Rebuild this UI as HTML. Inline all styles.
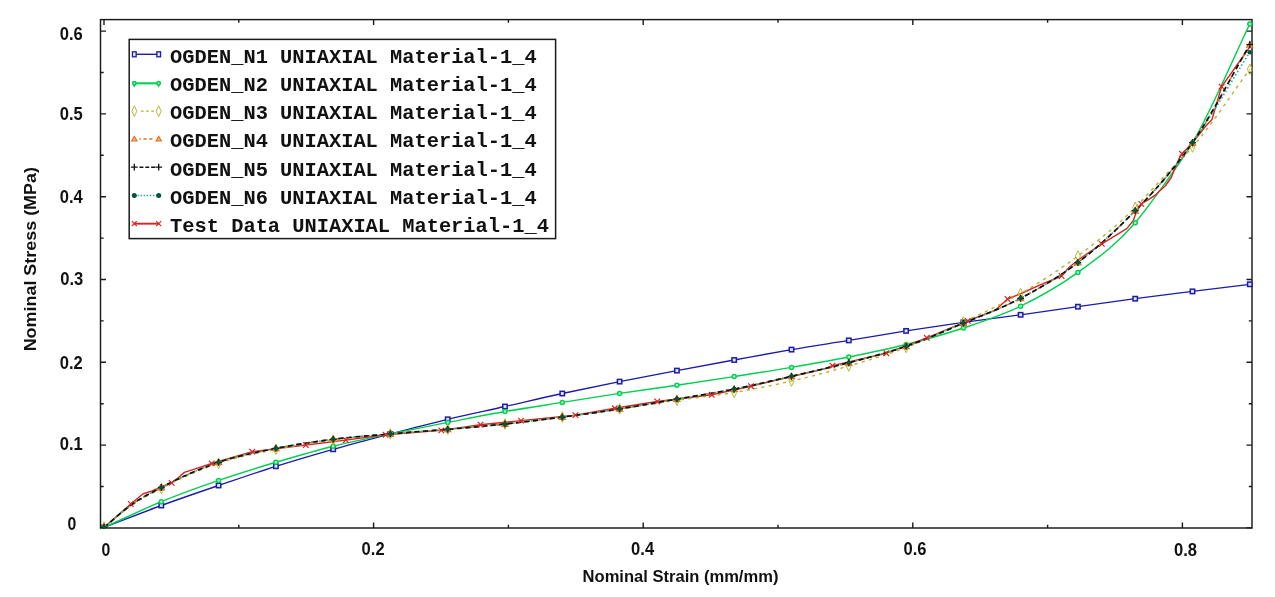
<!DOCTYPE html>
<html lang="en"><head><meta charset="utf-8"><title>Nominal Stress vs Nominal Strain</title>
<style>html,body{margin:0;padding:0;background:#fff}body{width:1275px;height:597px;overflow:hidden}svg{display:block}.tk{font-family:"Liberation Sans",sans-serif;font-weight:bold;font-size:18.5px;fill:#111}.ti{font-family:"Liberation Sans",sans-serif;font-weight:bold;font-size:17.1px;fill:#111}.lg{font-family:"Liberation Mono",monospace;font-weight:bold;font-size:20.4px;fill:#111}</style></head><body>
<svg width="1275" height="597" viewBox="0 0 1275 597" style="filter:blur(0.4px)">
<rect width="1275" height="597" fill="#fff"/>
<defs><clipPath id="pc"><rect x="100.5" y="19.6" width="1153.0" height="509.4"/></clipPath></defs>
<rect x="100.5" y="19.6" width="1151.5" height="508.4" fill="none" stroke="#1a1a1a" stroke-width="1.45"/>
<path d="M104.0 528.0v-5.5M104.0 19.6v5.5M238.8 528.0v-3.2M238.8 19.6v3.2M373.6 528.0v-5.5M373.6 19.6v5.5M508.4 528.0v-3.2M508.4 19.6v3.2M643.2 528.0v-5.5M643.2 19.6v5.5M778.0 528.0v-3.2M778.0 19.6v3.2M912.8 528.0v-5.5M912.8 19.6v5.5M1047.6 528.0v-3.2M1047.6 19.6v3.2M1182.4 528.0v-5.5M1182.4 19.6v5.5M100.5 527.9h5.5M1252.0 527.9h-5.5M100.5 486.5h3.2M1252.0 486.5h-3.2M100.5 445.1h5.5M1252.0 445.1h-5.5M100.5 403.7h3.2M1252.0 403.7h-3.2M100.5 362.3h5.5M1252.0 362.3h-5.5M100.5 320.9h3.2M1252.0 320.9h-3.2M100.5 279.5h5.5M1252.0 279.5h-5.5M100.5 238.1h3.2M1252.0 238.1h-3.2M100.5 196.7h5.5M1252.0 196.7h-5.5M100.5 155.3h3.2M1252.0 155.3h-3.2M100.5 113.9h5.5M1252.0 113.9h-5.5M100.5 72.5h3.2M1252.0 72.5h-3.2M100.5 31.1h5.5M1252.0 31.1h-5.5" stroke="#1a1a1a" stroke-width="1.4" fill="none"/>
<text class="tk" x="105.8" y="555.9" text-anchor="middle" textLength="8.8" lengthAdjust="spacingAndGlyphs">0</text>
<text class="tk" x="373.1" y="555.0" text-anchor="middle" textLength="23.0" lengthAdjust="spacingAndGlyphs">0.2</text>
<text class="tk" x="642.6" y="555.0" text-anchor="middle" textLength="23.0" lengthAdjust="spacingAndGlyphs">0.4</text>
<text class="tk" x="915.0" y="555.4" text-anchor="middle" textLength="23.0" lengthAdjust="spacingAndGlyphs">0.6</text>
<text class="tk" x="1185.5" y="556.1" text-anchor="middle" textLength="23.0" lengthAdjust="spacingAndGlyphs">0.8</text>
<text class="tk" x="82.8" y="40.3" text-anchor="end" textLength="23.0" lengthAdjust="spacingAndGlyphs">0.6</text>
<text class="tk" x="82.8" y="119.7" text-anchor="end" textLength="23.0" lengthAdjust="spacingAndGlyphs">0.5</text>
<text class="tk" x="82.8" y="203.0" text-anchor="end" textLength="23.0" lengthAdjust="spacingAndGlyphs">0.4</text>
<text class="tk" x="83.3" y="285.0" text-anchor="end" textLength="23.0" lengthAdjust="spacingAndGlyphs">0.3</text>
<text class="tk" x="82.8" y="369.2" text-anchor="end" textLength="23.0" lengthAdjust="spacingAndGlyphs">0.2</text>
<text class="tk" x="82.8" y="449.7" text-anchor="end" textLength="23.0" lengthAdjust="spacingAndGlyphs">0.1</text>
<text class="tk" x="76.4" y="530.2" text-anchor="end" textLength="8.8" lengthAdjust="spacingAndGlyphs">0</text>
<text class="ti" x="680.5" y="581.8" text-anchor="middle" textLength="195.8" lengthAdjust="spacingAndGlyphs">Nominal Strain (mm/mm)</text>
<text class="ti" transform="translate(36.0 259.2) rotate(-90)" text-anchor="middle" textLength="184.3" lengthAdjust="spacingAndGlyphs">Nominal Stress (MPa)</text>
<g clip-path="url(#pc)">
<path d="M104.0 527.5C123.1 520.2 142.2 512.5 161.3 505.5C180.4 498.5 199.5 492.0 218.6 485.5C237.7 479.0 256.8 472.3 275.9 466.3C295.0 460.3 314.1 454.7 333.2 449.3C352.3 443.9 371.4 438.9 390.4 433.9C409.5 428.9 428.6 423.9 447.7 419.3C466.8 414.7 485.9 410.8 505.0 406.5C524.1 402.2 543.2 397.6 562.3 393.5C581.4 389.4 600.5 385.4 619.6 381.6C638.7 377.8 657.8 374.2 676.9 370.6C696.0 367.0 715.1 363.5 734.2 360.0C753.3 356.5 772.4 352.9 791.5 349.6C810.6 346.3 829.7 343.5 848.8 340.4C867.9 337.3 887.0 333.9 906.1 330.9C925.2 327.9 944.3 325.1 963.4 322.4C982.4 319.7 1001.5 317.4 1020.6 314.8C1039.7 312.2 1058.8 309.4 1077.9 306.7C1097.0 304.0 1116.1 301.2 1135.2 298.7C1154.3 296.1 1173.4 293.8 1192.5 291.4C1211.6 289.0 1230.7 286.7 1249.8 284.3" fill="none" stroke="#1c1ca8" stroke-width="1.35"/>
<path d="M104.0 527.5C123.1 518.9 142.2 509.6 161.3 501.7C180.4 493.8 199.5 487.0 218.6 480.4C237.7 473.8 256.8 468.0 275.9 462.3C295.0 456.6 314.1 450.9 333.2 446.2C352.3 441.5 371.4 437.9 390.4 433.9C409.5 429.9 428.6 426.1 447.7 422.4C466.8 418.7 485.9 414.8 505.0 411.5C524.1 408.2 543.2 405.4 562.3 402.4C581.4 399.4 600.5 396.3 619.6 393.4C638.7 390.5 657.8 388.0 676.9 385.2C696.0 382.4 715.1 379.6 734.2 376.6C753.3 373.6 772.4 370.7 791.5 367.4C810.6 364.1 829.7 360.8 848.8 357.0C867.9 353.2 887.0 349.3 906.1 344.5C925.2 339.7 944.3 334.4 963.4 328.0C982.4 321.6 1001.5 315.5 1020.6 306.2C1039.7 296.9 1058.8 286.3 1077.9 272.4C1097.0 258.5 1116.1 245.4 1135.2 222.8C1142.9 213.7 1150.7 203.0 1158.4 192.4C1169.8 176.8 1181.1 161.9 1192.5 142.7C1211.6 110.5 1230.7 63.6 1249.8 24.0" fill="none" stroke="#00d050" stroke-width="1.45"/>
<polyline points="104.0,527.5 115.0,517.8 130.8,504.0 142.8,494.0 152.0,490.9 161.3,487.0 171.6,482.9 178.2,477.8 184.4,472.4 193.7,469.3 211.7,463.4 252.2,451.6 305.8,445.0 345.9,440.1 385.6,434.7 441.3,430.4 480.5,424.7 521.0,420.6 575.5,415.1 614.8,408.3 657.2,401.5 711.7,394.8 751.0,386.2 812.0,371.7 825.4,368.5 832.5,365.6 886.3,353.2 926.8,337.8 967.8,320.9 995.5,310.1 1007.5,299.0 1021.0,293.5 1040.2,284.9 1061.6,276.0 1069.0,267.5 1078.0,260.0 1101.8,243.9 1126.8,228.6 1133.2,220.8 1136.2,212.5 1141.3,204.0 1148.5,199.7 1155.6,194.8 1165.6,185.5 1171.3,177.5 1174.8,168.4 1179.8,157.1 1182.0,153.8 1192.6,142.7 1205.4,126.5 1212.0,119.5 1221.6,86.6 1249.8,47.0" fill="none" stroke="#d82424" stroke-width="1.4" stroke-linejoin="round"/>
<path d="M104.0 527.5C112.9 520.3 121.9 512.0 130.8 505.8C141.0 498.7 151.1 493.8 161.3 488.5C180.4 478.5 199.5 469.8 218.6 463.3C237.7 456.8 256.8 453.3 275.9 449.4C295.0 445.5 314.1 442.6 333.2 440.0C352.3 437.4 371.4 435.7 390.4 433.9C409.5 432.1 428.6 430.9 447.7 429.3C466.8 427.7 485.9 426.0 505.0 424.0C524.1 422.0 543.2 419.6 562.3 417.1C581.4 414.6 600.5 411.7 619.6 408.9C638.7 406.1 657.8 403.0 676.9 400.3C696.0 397.6 715.1 395.7 734.2 392.5C753.3 389.3 772.4 385.4 791.5 381.0C810.6 376.6 829.7 371.6 848.8 366.0C867.9 360.4 887.0 354.8 906.1 347.5C925.2 340.2 944.3 331.0 963.4 322.0C982.4 313.0 1001.5 304.5 1020.6 293.5C1039.7 282.5 1058.8 270.3 1077.9 256.0C1097.0 241.7 1116.1 226.6 1135.2 207.5C1144.8 197.9 1154.3 186.7 1163.9 176.6C1173.4 166.5 1183.0 157.9 1192.5 147.0C1211.6 125.2 1230.7 95.2 1249.8 69.3" fill="none" stroke="#b4b432" stroke-width="1.4" stroke-dasharray="3.2 4.2"/>
<path d="M104.0 527.5C112.9 520.1 121.9 511.6 130.8 505.2C141.0 497.9 151.1 492.9 161.3 487.5C180.4 477.3 199.5 468.8 218.6 462.3C237.7 455.8 256.8 452.2 275.9 448.4C295.0 444.6 314.1 441.7 333.2 439.3C352.3 436.9 371.4 435.6 390.4 433.9C409.5 432.2 428.6 430.9 447.7 429.3C466.8 427.7 485.9 426.0 505.0 424.0C524.1 422.0 543.2 419.6 562.3 417.1C581.4 414.6 600.5 411.9 619.6 408.9C638.7 405.9 657.8 402.4 676.9 399.1C696.0 395.8 715.1 392.9 734.2 389.1C753.3 385.3 772.4 380.7 791.5 376.3C810.6 371.9 829.7 367.7 848.8 362.7C867.9 357.7 887.0 352.9 906.1 346.3C925.2 339.7 944.3 331.2 963.4 323.2C982.4 315.2 1001.5 308.4 1020.6 298.3C1039.7 288.2 1058.8 277.2 1077.9 262.6C1097.0 248.0 1116.1 230.3 1135.2 210.7C1144.8 200.9 1154.3 190.9 1163.9 179.6C1173.4 168.3 1183.0 156.3 1192.5 142.7C1211.6 115.4 1230.7 77.4 1249.8 44.7" fill="none" stroke="#e2701e" stroke-width="1.4" stroke-dasharray="5 3 1.5 3"/>
<path d="M104.0 527.5C112.9 520.1 121.9 511.6 130.8 505.2C141.0 497.9 151.1 492.9 161.3 487.5C180.4 477.3 199.5 468.8 218.6 462.3C237.7 455.8 256.8 452.2 275.9 448.4C295.0 444.6 314.1 441.7 333.2 439.3C352.3 436.9 371.4 435.6 390.4 433.9C409.5 432.2 428.6 430.9 447.7 429.3C466.8 427.7 485.9 426.0 505.0 424.0C524.1 422.0 543.2 419.6 562.3 417.1C581.4 414.6 600.5 411.9 619.6 408.9C638.7 405.9 657.8 402.4 676.9 399.1C696.0 395.8 715.1 392.9 734.2 389.1C753.3 385.3 772.4 380.7 791.5 376.3C810.6 371.9 829.7 367.7 848.8 362.7C867.9 357.7 887.0 352.9 906.1 346.3C925.2 339.7 944.3 331.2 963.4 323.2C982.4 315.2 1001.5 308.4 1020.6 298.3C1039.7 288.2 1058.8 277.2 1077.9 262.6C1097.0 248.0 1116.1 230.3 1135.2 210.7C1144.8 200.9 1154.3 190.9 1163.9 179.6C1173.4 168.3 1183.0 155.9 1192.5 142.7C1211.6 116.2 1230.7 82.4 1249.8 52.2" fill="none" stroke="#18b4a0" stroke-width="1.6" stroke-dasharray="1.6 2.2"/>
<path d="M104.0 527.5C112.9 520.1 121.9 511.6 130.8 505.2C141.0 497.9 151.1 492.9 161.3 487.5C180.4 477.3 199.5 468.8 218.6 462.3C237.7 455.8 256.8 452.2 275.9 448.4C295.0 444.6 314.1 441.7 333.2 439.3C352.3 436.9 371.4 435.6 390.4 433.9C409.5 432.2 428.6 430.9 447.7 429.3C466.8 427.7 485.9 426.0 505.0 424.0C524.1 422.0 543.2 419.6 562.3 417.1C581.4 414.6 600.5 411.9 619.6 408.9C638.7 405.9 657.8 402.4 676.9 399.1C696.0 395.8 715.1 392.9 734.2 389.1C753.3 385.3 772.4 380.7 791.5 376.3C810.6 371.9 829.7 367.7 848.8 362.7C867.9 357.7 887.0 352.9 906.1 346.3C925.2 339.7 944.3 331.2 963.4 323.2C982.4 315.2 1001.5 308.4 1020.6 298.3C1039.7 288.2 1058.8 277.2 1077.9 262.6C1097.0 248.0 1116.1 230.3 1135.2 210.7C1144.8 200.9 1154.3 190.9 1163.9 179.6C1173.4 168.3 1183.0 156.3 1192.5 142.7C1211.6 115.4 1230.7 77.4 1249.8 44.7" fill="none" stroke="#101010" stroke-width="1.7" stroke-dasharray="5 3.5"/>
<rect x="101.8" y="525.3" width="4.4" height="4.4" fill="#e4e4f6" stroke="#1c1ca8" stroke-width="1.5"/><rect x="159.1" y="503.3" width="4.4" height="4.4" fill="#e4e4f6" stroke="#1c1ca8" stroke-width="1.5"/><rect x="216.4" y="483.3" width="4.4" height="4.4" fill="#e4e4f6" stroke="#1c1ca8" stroke-width="1.5"/><rect x="273.7" y="464.1" width="4.4" height="4.4" fill="#e4e4f6" stroke="#1c1ca8" stroke-width="1.5"/><rect x="331.0" y="447.1" width="4.4" height="4.4" fill="#e4e4f6" stroke="#1c1ca8" stroke-width="1.5"/><rect x="388.2" y="431.7" width="4.4" height="4.4" fill="#e4e4f6" stroke="#1c1ca8" stroke-width="1.5"/><rect x="445.5" y="417.1" width="4.4" height="4.4" fill="#e4e4f6" stroke="#1c1ca8" stroke-width="1.5"/><rect x="502.8" y="404.3" width="4.4" height="4.4" fill="#e4e4f6" stroke="#1c1ca8" stroke-width="1.5"/><rect x="560.1" y="391.3" width="4.4" height="4.4" fill="#e4e4f6" stroke="#1c1ca8" stroke-width="1.5"/><rect x="617.4" y="379.4" width="4.4" height="4.4" fill="#e4e4f6" stroke="#1c1ca8" stroke-width="1.5"/><rect x="674.7" y="368.4" width="4.4" height="4.4" fill="#e4e4f6" stroke="#1c1ca8" stroke-width="1.5"/><rect x="732.0" y="357.8" width="4.4" height="4.4" fill="#e4e4f6" stroke="#1c1ca8" stroke-width="1.5"/><rect x="789.3" y="347.4" width="4.4" height="4.4" fill="#e4e4f6" stroke="#1c1ca8" stroke-width="1.5"/><rect x="846.6" y="338.2" width="4.4" height="4.4" fill="#e4e4f6" stroke="#1c1ca8" stroke-width="1.5"/><rect x="903.9" y="328.7" width="4.4" height="4.4" fill="#e4e4f6" stroke="#1c1ca8" stroke-width="1.5"/><rect x="961.1" y="320.2" width="4.4" height="4.4" fill="#e4e4f6" stroke="#1c1ca8" stroke-width="1.5"/><rect x="1018.4" y="312.6" width="4.4" height="4.4" fill="#e4e4f6" stroke="#1c1ca8" stroke-width="1.5"/><rect x="1075.7" y="304.5" width="4.4" height="4.4" fill="#e4e4f6" stroke="#1c1ca8" stroke-width="1.5"/><rect x="1133.0" y="296.5" width="4.4" height="4.4" fill="#e4e4f6" stroke="#1c1ca8" stroke-width="1.5"/><rect x="1190.3" y="289.2" width="4.4" height="4.4" fill="#e4e4f6" stroke="#1c1ca8" stroke-width="1.5"/><rect x="1247.6" y="282.1" width="4.4" height="4.4" fill="#e4e4f6" stroke="#1c1ca8" stroke-width="1.5"/>
<circle cx="104.0" cy="527.5" r="2.0" fill="#b8f2cc" stroke="#00d050" stroke-width="1.5"/><circle cx="161.3" cy="501.7" r="2.0" fill="#b8f2cc" stroke="#00d050" stroke-width="1.5"/><circle cx="218.6" cy="480.4" r="2.0" fill="#b8f2cc" stroke="#00d050" stroke-width="1.5"/><circle cx="275.9" cy="462.3" r="2.0" fill="#b8f2cc" stroke="#00d050" stroke-width="1.5"/><circle cx="333.2" cy="446.2" r="2.0" fill="#b8f2cc" stroke="#00d050" stroke-width="1.5"/><circle cx="390.4" cy="433.9" r="2.0" fill="#b8f2cc" stroke="#00d050" stroke-width="1.5"/><circle cx="447.7" cy="422.4" r="2.0" fill="#b8f2cc" stroke="#00d050" stroke-width="1.5"/><circle cx="505.0" cy="411.5" r="2.0" fill="#b8f2cc" stroke="#00d050" stroke-width="1.5"/><circle cx="562.3" cy="402.4" r="2.0" fill="#b8f2cc" stroke="#00d050" stroke-width="1.5"/><circle cx="619.6" cy="393.4" r="2.0" fill="#b8f2cc" stroke="#00d050" stroke-width="1.5"/><circle cx="676.9" cy="385.2" r="2.0" fill="#b8f2cc" stroke="#00d050" stroke-width="1.5"/><circle cx="734.2" cy="376.6" r="2.0" fill="#b8f2cc" stroke="#00d050" stroke-width="1.5"/><circle cx="791.5" cy="367.4" r="2.0" fill="#b8f2cc" stroke="#00d050" stroke-width="1.5"/><circle cx="848.8" cy="357.0" r="2.0" fill="#b8f2cc" stroke="#00d050" stroke-width="1.5"/><circle cx="906.1" cy="344.5" r="2.0" fill="#b8f2cc" stroke="#00d050" stroke-width="1.5"/><circle cx="963.4" cy="328.0" r="2.0" fill="#b8f2cc" stroke="#00d050" stroke-width="1.5"/><circle cx="1020.6" cy="306.2" r="2.0" fill="#b8f2cc" stroke="#00d050" stroke-width="1.5"/><circle cx="1077.9" cy="272.4" r="2.0" fill="#b8f2cc" stroke="#00d050" stroke-width="1.5"/><circle cx="1135.2" cy="222.8" r="2.0" fill="#b8f2cc" stroke="#00d050" stroke-width="1.5"/><circle cx="1192.5" cy="142.7" r="2.0" fill="#b8f2cc" stroke="#00d050" stroke-width="1.5"/><circle cx="1249.8" cy="24.0" r="2.0" fill="#b8f2cc" stroke="#00d050" stroke-width="1.5"/>
<path d="M128.0 501.2L133.6 506.8M128.0 506.8L133.6 501.2" fill="none" stroke="#d82424" stroke-width="1.2"/><path d="M168.8 480.1L174.4 485.7M168.8 485.7L174.4 480.1" fill="none" stroke="#d82424" stroke-width="1.2"/><path d="M208.9 460.6L214.5 466.2M208.9 466.2L214.5 460.6" fill="none" stroke="#d82424" stroke-width="1.2"/><path d="M249.4 448.8L255.0 454.4M249.4 454.4L255.0 448.8" fill="none" stroke="#d82424" stroke-width="1.2"/><path d="M303.0 442.2L308.6 447.8M303.0 447.8L308.6 442.2" fill="none" stroke="#d82424" stroke-width="1.2"/><path d="M343.1 437.3L348.7 442.9M343.1 442.9L348.7 437.3" fill="none" stroke="#d82424" stroke-width="1.2"/><path d="M382.8 431.9L388.4 437.5M382.8 437.5L388.4 431.9" fill="none" stroke="#d82424" stroke-width="1.2"/><path d="M438.5 427.6L444.1 433.2M438.5 433.2L444.1 427.6" fill="none" stroke="#d82424" stroke-width="1.2"/><path d="M477.7 421.9L483.3 427.5M477.7 427.5L483.3 421.9" fill="none" stroke="#d82424" stroke-width="1.2"/><path d="M518.2 417.8L523.8 423.4M518.2 423.4L523.8 417.8" fill="none" stroke="#d82424" stroke-width="1.2"/><path d="M572.7 412.3L578.3 417.9M572.7 417.9L578.3 412.3" fill="none" stroke="#d82424" stroke-width="1.2"/><path d="M612.0 405.5L617.6 411.1M612.0 411.1L617.6 405.5" fill="none" stroke="#d82424" stroke-width="1.2"/><path d="M654.4 398.7L660.0 404.3M654.4 404.3L660.0 398.7" fill="none" stroke="#d82424" stroke-width="1.2"/><path d="M708.9 392.0L714.5 397.6M708.9 397.6L714.5 392.0" fill="none" stroke="#d82424" stroke-width="1.2"/><path d="M748.2 383.4L753.8 389.0M748.2 389.0L753.8 383.4" fill="none" stroke="#d82424" stroke-width="1.2"/><path d="M829.7 362.8L835.3 368.4M829.7 368.4L835.3 362.8" fill="none" stroke="#d82424" stroke-width="1.2"/><path d="M883.5 350.4L889.1 356.0M883.5 356.0L889.1 350.4" fill="none" stroke="#d82424" stroke-width="1.2"/><path d="M924.0 335.0L929.6 340.6M924.0 340.6L929.6 335.0" fill="none" stroke="#d82424" stroke-width="1.2"/><path d="M965.0 318.1L970.6 323.7M965.0 323.7L970.6 318.1" fill="none" stroke="#d82424" stroke-width="1.2"/><path d="M1004.7 296.2L1010.3 301.8M1004.7 301.8L1010.3 296.2" fill="none" stroke="#d82424" stroke-width="1.2"/><path d="M1058.8 273.2L1064.4 278.8M1058.8 278.8L1064.4 273.2" fill="none" stroke="#d82424" stroke-width="1.2"/><path d="M1099.0 241.1L1104.6 246.7M1099.0 246.7L1104.6 241.1" fill="none" stroke="#d82424" stroke-width="1.2"/><path d="M1138.5 201.2L1144.1 206.8M1138.5 206.8L1144.1 201.2" fill="none" stroke="#d82424" stroke-width="1.2"/><path d="M1179.2 151.0L1184.8 156.6M1179.2 156.6L1184.8 151.0" fill="none" stroke="#d82424" stroke-width="1.2"/><path d="M1218.8 83.8L1224.4 89.4M1218.8 89.4L1224.4 83.8" fill="none" stroke="#d82424" stroke-width="1.2"/>
<path d="M104.0 522.2L106.5 527.5L104.0 532.8L101.5 527.5Z" fill="none" stroke="#b4b432" stroke-width="0.95"/><path d="M161.3 483.2L163.8 488.5L161.3 493.8L158.8 488.5Z" fill="none" stroke="#b4b432" stroke-width="0.95"/><path d="M218.6 458.0L221.1 463.3L218.6 468.6L216.1 463.3Z" fill="none" stroke="#b4b432" stroke-width="0.95"/><path d="M275.9 444.1L278.4 449.4L275.9 454.7L273.4 449.4Z" fill="none" stroke="#b4b432" stroke-width="0.95"/><path d="M333.2 434.7L335.7 440.0L333.2 445.3L330.7 440.0Z" fill="none" stroke="#b4b432" stroke-width="0.95"/><path d="M390.4 428.6L392.9 433.9L390.4 439.2L387.9 433.9Z" fill="none" stroke="#b4b432" stroke-width="0.95"/><path d="M447.7 424.0L450.2 429.3L447.7 434.6L445.2 429.3Z" fill="none" stroke="#b4b432" stroke-width="0.95"/><path d="M505.0 418.7L507.5 424.0L505.0 429.3L502.5 424.0Z" fill="none" stroke="#b4b432" stroke-width="0.95"/><path d="M562.3 411.8L564.8 417.1L562.3 422.4L559.8 417.1Z" fill="none" stroke="#b4b432" stroke-width="0.95"/><path d="M619.6 403.6L622.1 408.9L619.6 414.2L617.1 408.9Z" fill="none" stroke="#b4b432" stroke-width="0.95"/><path d="M676.9 395.0L679.4 400.3L676.9 405.6L674.4 400.3Z" fill="none" stroke="#b4b432" stroke-width="0.95"/><path d="M734.2 387.2L736.7 392.5L734.2 397.8L731.7 392.5Z" fill="none" stroke="#b4b432" stroke-width="0.95"/><path d="M791.5 375.7L794.0 381.0L791.5 386.3L789.0 381.0Z" fill="none" stroke="#b4b432" stroke-width="0.95"/><path d="M848.8 360.7L851.3 366.0L848.8 371.3L846.3 366.0Z" fill="none" stroke="#b4b432" stroke-width="0.95"/><path d="M906.1 342.2L908.6 347.5L906.1 352.8L903.6 347.5Z" fill="none" stroke="#b4b432" stroke-width="0.95"/><path d="M963.4 316.7L965.9 322.0L963.4 327.3L960.9 322.0Z" fill="none" stroke="#b4b432" stroke-width="0.95"/><path d="M1020.6 288.2L1023.1 293.5L1020.6 298.8L1018.1 293.5Z" fill="none" stroke="#b4b432" stroke-width="0.95"/><path d="M1077.9 250.7L1080.4 256.0L1077.9 261.3L1075.4 256.0Z" fill="none" stroke="#b4b432" stroke-width="0.95"/><path d="M1135.2 202.2L1137.7 207.5L1135.2 212.8L1132.7 207.5Z" fill="none" stroke="#b4b432" stroke-width="0.95"/><path d="M1192.5 141.7L1195.0 147.0L1192.5 152.3L1190.0 147.0Z" fill="none" stroke="#b4b432" stroke-width="0.95"/><path d="M1249.8 64.0L1252.3 69.3L1249.8 74.6L1247.3 69.3Z" fill="none" stroke="#b4b432" stroke-width="0.95"/>
<path d="M104.0 524.3L107.2 529.9L100.8 529.9Z" fill="#f4b27a" stroke="#e2701e" stroke-width="1.1"/><path d="M161.3 484.3L164.5 489.9L158.1 489.9Z" fill="#f4b27a" stroke="#e2701e" stroke-width="1.1"/><path d="M218.6 459.1L221.8 464.7L215.4 464.7Z" fill="#f4b27a" stroke="#e2701e" stroke-width="1.1"/><path d="M275.9 445.2L279.1 450.8L272.7 450.8Z" fill="#f4b27a" stroke="#e2701e" stroke-width="1.1"/><path d="M333.2 436.1L336.4 441.7L330.0 441.7Z" fill="#f4b27a" stroke="#e2701e" stroke-width="1.1"/><path d="M390.4 430.7L393.6 436.3L387.2 436.3Z" fill="#f4b27a" stroke="#e2701e" stroke-width="1.1"/><path d="M447.7 426.1L450.9 431.7L444.5 431.7Z" fill="#f4b27a" stroke="#e2701e" stroke-width="1.1"/><path d="M505.0 420.8L508.2 426.4L501.8 426.4Z" fill="#f4b27a" stroke="#e2701e" stroke-width="1.1"/><path d="M562.3 413.9L565.5 419.5L559.1 419.5Z" fill="#f4b27a" stroke="#e2701e" stroke-width="1.1"/><path d="M619.6 405.7L622.8 411.3L616.4 411.3Z" fill="#f4b27a" stroke="#e2701e" stroke-width="1.1"/><path d="M676.9 395.9L680.1 401.5L673.7 401.5Z" fill="#f4b27a" stroke="#e2701e" stroke-width="1.1"/><path d="M734.2 385.9L737.4 391.5L731.0 391.5Z" fill="#f4b27a" stroke="#e2701e" stroke-width="1.1"/><path d="M791.5 373.1L794.7 378.7L788.3 378.7Z" fill="#f4b27a" stroke="#e2701e" stroke-width="1.1"/><path d="M848.8 359.5L852.0 365.1L845.6 365.1Z" fill="#f4b27a" stroke="#e2701e" stroke-width="1.1"/><path d="M906.1 343.1L909.3 348.7L902.9 348.7Z" fill="#f4b27a" stroke="#e2701e" stroke-width="1.1"/><path d="M963.4 320.0L966.6 325.6L960.1 325.6Z" fill="#f4b27a" stroke="#e2701e" stroke-width="1.1"/><path d="M1020.6 295.1L1023.8 300.7L1017.4 300.7Z" fill="#f4b27a" stroke="#e2701e" stroke-width="1.1"/><path d="M1077.9 259.4L1081.1 265.0L1074.7 265.0Z" fill="#f4b27a" stroke="#e2701e" stroke-width="1.1"/><path d="M1135.2 207.5L1138.4 213.1L1132.0 213.1Z" fill="#f4b27a" stroke="#e2701e" stroke-width="1.1"/><path d="M1192.5 139.5L1195.7 145.1L1189.3 145.1Z" fill="#f4b27a" stroke="#e2701e" stroke-width="1.1"/><path d="M1249.8 41.5L1253.0 47.1L1246.6 47.1Z" fill="#f4b27a" stroke="#e2701e" stroke-width="1.1"/>
<path d="M100.6 527.5H107.4M104.0 524.1V530.9" fill="none" stroke="#101010" stroke-width="1.3"/><path d="M157.9 487.5H164.7M161.3 484.1V490.9" fill="none" stroke="#101010" stroke-width="1.3"/><path d="M215.2 462.3H222.0M218.6 458.9V465.7" fill="none" stroke="#101010" stroke-width="1.3"/><path d="M272.5 448.4H279.3M275.9 445.0V451.8" fill="none" stroke="#101010" stroke-width="1.3"/><path d="M329.8 439.3H336.6M333.2 435.9V442.7" fill="none" stroke="#101010" stroke-width="1.3"/><path d="M387.1 433.9H393.8M390.4 430.5V437.3" fill="none" stroke="#101010" stroke-width="1.3"/><path d="M444.3 429.3H451.1M447.7 425.9V432.7" fill="none" stroke="#101010" stroke-width="1.3"/><path d="M501.6 424.0H508.4M505.0 420.6V427.4" fill="none" stroke="#101010" stroke-width="1.3"/><path d="M558.9 417.1H565.7M562.3 413.7V420.5" fill="none" stroke="#101010" stroke-width="1.3"/><path d="M616.2 408.9H623.0M619.6 405.5V412.3" fill="none" stroke="#101010" stroke-width="1.3"/><path d="M673.5 399.1H680.3M676.9 395.7V402.5" fill="none" stroke="#101010" stroke-width="1.3"/><path d="M730.8 389.1H737.6M734.2 385.7V392.5" fill="none" stroke="#101010" stroke-width="1.3"/><path d="M788.1 376.3H794.9M791.5 372.9V379.7" fill="none" stroke="#101010" stroke-width="1.3"/><path d="M845.4 362.7H852.2M848.8 359.3V366.1" fill="none" stroke="#101010" stroke-width="1.3"/><path d="M902.7 346.3H909.5M906.1 342.9V349.7" fill="none" stroke="#101010" stroke-width="1.3"/><path d="M960.0 323.2H966.8M963.4 319.8V326.6" fill="none" stroke="#101010" stroke-width="1.3"/><path d="M1017.2 298.3H1024.0M1020.6 294.9V301.7" fill="none" stroke="#101010" stroke-width="1.3"/><path d="M1074.5 262.6H1081.3M1077.9 259.2V266.0" fill="none" stroke="#101010" stroke-width="1.3"/><path d="M1131.8 210.7H1138.6M1135.2 207.3V214.1" fill="none" stroke="#101010" stroke-width="1.3"/><path d="M1189.1 142.7H1195.9M1192.5 139.3V146.1" fill="none" stroke="#101010" stroke-width="1.3"/><path d="M1246.4 44.7H1253.2M1249.8 41.3V48.1" fill="none" stroke="#101010" stroke-width="1.3"/>
<circle cx="104.0" cy="527.5" r="2.3" fill="#00553a"/><circle cx="161.3" cy="487.5" r="2.3" fill="#00553a"/><circle cx="218.6" cy="462.3" r="2.3" fill="#00553a"/><circle cx="275.9" cy="448.4" r="2.3" fill="#00553a"/><circle cx="333.2" cy="439.3" r="2.3" fill="#00553a"/><circle cx="390.4" cy="433.9" r="2.3" fill="#00553a"/><circle cx="447.7" cy="429.3" r="2.3" fill="#00553a"/><circle cx="505.0" cy="424.0" r="2.3" fill="#00553a"/><circle cx="562.3" cy="417.1" r="2.3" fill="#00553a"/><circle cx="619.6" cy="408.9" r="2.3" fill="#00553a"/><circle cx="676.9" cy="399.1" r="2.3" fill="#00553a"/><circle cx="734.2" cy="389.1" r="2.3" fill="#00553a"/><circle cx="791.5" cy="376.3" r="2.3" fill="#00553a"/><circle cx="848.8" cy="362.7" r="2.3" fill="#00553a"/><circle cx="906.1" cy="346.3" r="2.3" fill="#00553a"/><circle cx="963.4" cy="323.2" r="2.3" fill="#00553a"/><circle cx="1020.6" cy="298.3" r="2.3" fill="#00553a"/><circle cx="1077.9" cy="262.6" r="2.3" fill="#00553a"/><circle cx="1135.2" cy="210.7" r="2.3" fill="#00553a"/><circle cx="1192.5" cy="142.7" r="2.3" fill="#00553a"/><circle cx="1249.8" cy="52.2" r="2.3" fill="#00553a"/>
</g>
<rect x="129.2" y="39.4" width="426.40000000000003" height="199.2" fill="#fff" stroke="#1a1a1a" stroke-width="1.5"/>
<path d="M134.3 54.3H158.7" stroke="#1c1ca8" stroke-width="1.4"/><rect x="132.45" y="51.80" width="3.7" height="5.0" fill="#e4e4f6" stroke="#1c1ca8" stroke-width="1.3"/><rect x="156.85" y="51.80" width="3.7" height="5.0" fill="#e4e4f6" stroke="#1c1ca8" stroke-width="1.3"/>
<text class="lg" x="170.1" y="62.7" textLength="366.6" lengthAdjust="spacing">OGDEN_N1 UNIAXIAL Material-1_4</text>
<path d="M134.3 83.33H158.7" stroke="#00d050" stroke-width="2.1"/><circle cx="134.3" cy="83.3" r="1.7" fill="#8eeab0" stroke="#00d050" stroke-width="1.5"/><path d="M132.7 84.8L134.3 87.5L135.9 84.8Z" fill="#00d050"/><circle cx="158.7" cy="83.3" r="1.7" fill="#8eeab0" stroke="#00d050" stroke-width="1.5"/><path d="M157.1 84.8L158.7 87.5L160.3 84.8Z" fill="#00d050"/>
<text class="lg" x="170.1" y="90.9" textLength="366.6" lengthAdjust="spacing">OGDEN_N2 UNIAXIAL Material-1_4</text>
<path d="M140.8 111.16H154.2" stroke="#b4b432" stroke-width="1.3" stroke-dasharray="2.8 2.4"/><path d="M134.3 105.9L136.8 111.2L134.3 116.5L131.8 111.2Z" fill="none" stroke="#b4b432" stroke-width="0.95"/><path d="M158.7 105.9L161.2 111.2L158.7 116.5L156.2 111.2Z" fill="none" stroke="#b4b432" stroke-width="0.95"/>
<text class="lg" x="170.1" y="119.2" textLength="366.6" lengthAdjust="spacing">OGDEN_N3 UNIAXIAL Material-1_4</text>
<path d="M139.5 138.99H154.7" stroke="#e2701e" stroke-width="1.3" stroke-dasharray="1.3 2.6 3.2 2.6 3.2 9"/><path d="M134.3 136.3L137.0 141.0L131.6 141.0Z" fill="#f4b27a" stroke="#e2701e" stroke-width="1.1"/><path d="M158.7 136.3L161.4 141.0L156.0 141.0Z" fill="#f4b27a" stroke="#e2701e" stroke-width="1.1"/>
<text class="lg" x="170.1" y="147.4" textLength="366.6" lengthAdjust="spacing">OGDEN_N4 UNIAXIAL Material-1_4</text>
<path d="M139.5 167.22H155" stroke="#101010" stroke-width="1.4" stroke-dasharray="3.9 1.9"/><path d="M130.9 167.2H137.7M134.3 163.8V170.6" fill="none" stroke="#101010" stroke-width="1.3"/><path d="M155.3 167.2H162.1M158.7 163.8V170.6" fill="none" stroke="#101010" stroke-width="1.3"/>
<text class="lg" x="170.1" y="175.6" textLength="366.6" lengthAdjust="spacing">OGDEN_N5 UNIAXIAL Material-1_4</text>
<path d="M134.3 195.45H158.7" stroke="#18b4a0" stroke-width="1.5" stroke-dasharray="1.5 1.6"/><circle cx="134.3" cy="195.4" r="2.5" fill="#00553a"/><circle cx="158.7" cy="195.4" r="2.5" fill="#00553a"/>
<text class="lg" x="170.1" y="203.8" textLength="366.6" lengthAdjust="spacing">OGDEN_N6 UNIAXIAL Material-1_4</text>
<path d="M134.3 223.68H158.7" stroke="#d82424" stroke-width="1.9"/><path d="M131.8 221.2L136.8 226.2M131.8 226.2L136.8 221.2" fill="none" stroke="#d82424" stroke-width="1.2"/><path d="M156.2 221.2L161.2 226.2M156.2 226.2L161.2 221.2" fill="none" stroke="#d82424" stroke-width="1.2"/>
<text class="lg" x="170.1" y="232.1" textLength="378.8" lengthAdjust="spacing">Test Data UNIAXIAL Material-1_4</text>
</svg></body></html>
